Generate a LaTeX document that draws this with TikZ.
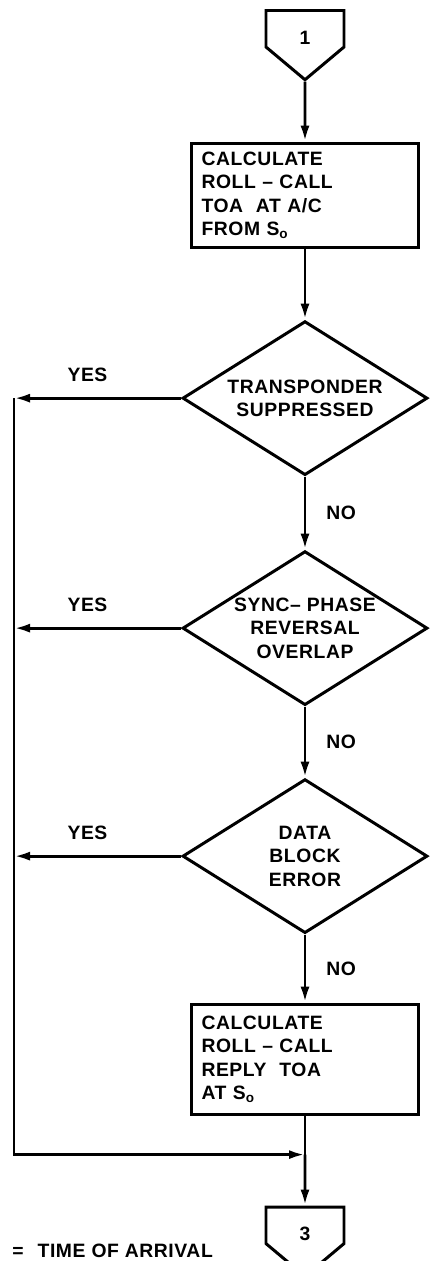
\documentclass[tikz,border=0pt]{standalone}
\usepackage{fontspec}
\setmainfont{Liberation Sans}[LetterSpace=3]
\usetikzlibrary{arrows.meta,positioning,shapes.geometric,shapes.symbols}

\begin{document}
\begin{tikzpicture}[node distance=1.4cm,>={Latex[length=3.2mm,width=1.8mm]},line width=1.7pt,
  every node/.style={font=\fontsize{11}{13.4}\selectfont\bfseries},
  proc/.style={draw,rectangle,minimum width=4.54cm,minimum height=2.1cm,text width=4.14cm,align=left,inner xsep=0.2cm},
  decide/.style={draw,diamond,aspect=1.6,minimum width=4.9cm,minimum height=3.08cm,inner sep=0pt,align=center},
  conn/.style={draw,signal,signal to=south,signal pointer angle=100,minimum width=1.56cm,minimum height=0.82cm,inner sep=0pt,text height=0.62cm,text depth=0pt}]
\useasboundingbox (0,0) rectangle (8.62,-25.22);
\coordinate (bus) at (0.28,0);
\node[conn,anchor=north] (c1) at (6.1,-0.18) {1};
\node[proc,below=1.2cm of c1,minimum height=2.08cm] (b1) {CALCULATE\\ROLL -- CALL\\TOA\ \ AT A/C\\FROM S\textsubscript{o}};
\node[decide,below=1.42cm of b1] (d1) {TRANSPONDER\\SUPPRESSED};
\node[decide,below=1.46cm of d1] (d2) {SYNC--\ PHASE\\REVERSAL\\OVERLAP};
\node[decide,below=1.42cm of d2] (d3) {DATA\\BLOCK\\ERROR};
\node[proc,below=1.36cm of d3,minimum height=2.2cm] (b2) {CALCULATE\\ROLL -- CALL\\REPLY\ \ TOA\\AT S\textsubscript{o}};
\coordinate[below=0.78cm of b2] (j);
\node[conn,below=1.02cm of j] (c3) {3};
\node[anchor=base west] (toa) at (0.1,-25.14) {=\hspace{0.28cm}TIME OF ARRIVAL};
\draw[->] (c1) -- (b1);
\draw[->] (b1) -- (d1);
\draw[->] (d1) -- node[right=8pt] {NO} (d2);
\draw[->] (d2) -- node[right=8pt] {NO} (d3);
\draw[->] (d3) -- node[right=8pt] {NO} (b2);
\draw (b2) -- (j);
\draw[->] (j) -- (c3);
\draw[->] (d1.west) -- node[pos=0.56,above=5pt] {YES} (d1.west -| bus);
\draw[->] (d2.west) -- node[pos=0.56,above=5pt] {YES} (d2.west -| bus);
\draw[->] (d3.west) -- node[pos=0.56,above=5pt] {YES} (d3.west -| bus);
\draw[->] (d1.west -| bus) |- (j);
\end{tikzpicture}
\end{document}
